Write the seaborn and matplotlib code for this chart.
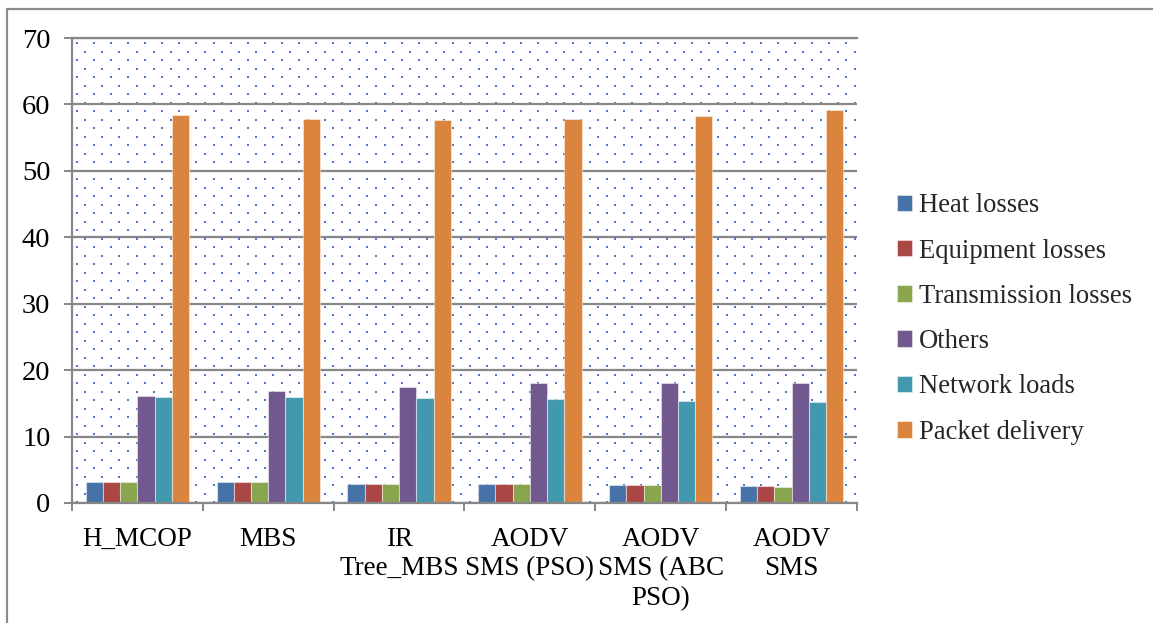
import numpy as np
import pandas as pd
import matplotlib
matplotlib.use("Agg")
import matplotlib.pyplot as plt
from matplotlib.lines import Line2D
from matplotlib.ticker import FixedLocator
import seaborn as sns

# Routing methods and loss/performance components
methods = ["H_MCOP", "MBS", "IR\nTree_MBS", "AODV\nSMS (PSO)", "AODV\nSMS (ABC\nPSO)", "AODV\nSMS"]
series = ["Heat losses", "Equipment losses", "Transmission losses",
          "Others", "Network loads", "Packet delivery"]
heat_losses = [3.1, 3.1, 2.9, 2.8, 2.7, 2.5]
equipment_losses = [3.1, 3.1, 2.9, 2.8, 2.7, 2.5]
transmission_losses = [3.1, 3.1, 2.9, 2.8, 2.7, 2.4]
others = [16.1, 16.8, 17.4, 18.0, 18.0, 18.0]
network_loads = [15.9, 15.9, 15.8, 15.6, 15.3, 15.2]
packet_delivery = [58.4, 57.8, 57.7, 57.8, 58.3, 59.2]
y_ticks = [0, 10, 20, 30, 40, 50, 60, 70]

colors = ["#4672A8", "#AA4744", "#89A54E", "#71588F", "#4198AF", "#DB843D"]
grey = "#878787"

values = [heat_losses, equipment_losses, transmission_losses,
          others, network_loads, packet_delivery]
df = pd.DataFrame({
    "method": np.tile(methods, len(series)),
    "series": np.repeat(series, len(methods)),
    "value": np.concatenate(values),
})

sns.set_style("white")
plt.rcParams["font.family"] = ["Liberation Serif", "DejaVu Serif"]

fig = plt.figure(figsize=(11.53, 6.23), dpi=100)
W, H = 785, 465
ax = fig.add_axes([72 / 1153, 120 / 623, W / 1153, H / 623])

sns.barplot(data=df, x="method", y="value", hue="series", order=methods,
            hue_order=series, palette=colors, saturation=1, width=0.79,
            linewidth=0.8, edgecolor=(1, 1, 1, 0.45), ax=ax, zorder=2)

# dotted fill pattern of the plot area
xs, ys = [], []
for j, yy in enumerate(np.arange(5.3, H, 8.5)):
    start = 4.7 if j % 2 == 0 else 4.7 + 8.55
    row = np.arange(start, W, 17.1)
    xs.extend(row)
    ys.extend([yy] * len(row))
xs = np.array(xs) / W
ys = 1 - np.array(ys) / H
ax.scatter(xs, ys, transform=ax.transAxes, s=4.2, marker="s", color="#4779C4",
           linewidths=0, zorder=0.2, clip_on=True)

ax.set_xlim(-0.5, len(methods) - 0.5)
ax.set_ylim(0, 70)
ax.set_yticks(y_ticks)
ax.set_xlabel("")
ax.set_ylabel("")

ax.set_axisbelow(True)
ax.yaxis.grid(True, color=grey, linewidth=1.6)
ax.xaxis.grid(False)

for side in ["left", "bottom", "top"]:
    ax.spines[side].set_visible(True)
    ax.spines[side].set_color(grey)
    ax.spines[side].set_linewidth(1.6)
ax.spines["right"].set_visible(False)

ax.tick_params(axis="y", which="major", left=True, direction="out", length=5.5,
               width=1.4, color=grey, pad=10, labelsize=20.5, labelcolor="black")
ax.tick_params(axis="x", which="major", bottom=True, length=0, pad=17,
               labelsize=19.5, labelcolor="black")
ax.xaxis.set_minor_locator(FixedLocator(np.arange(-0.5, len(methods), 1.0)))
ax.tick_params(axis="x", which="minor", bottom=True, direction="out", length=5.5,
               width=1.4, color=grey)
for lab in ax.get_xticklabels():
    lab.set_linespacing(1.25)

old = ax.get_legend()
handles = list(old.legend_handles)
labels = [t.get_text() for t in old.get_texts()]
old.remove()
fig.legend(handles, labels, loc="center left",
           bbox_to_anchor=(897 / 1153, 1 - 319 / 623), frameon=False,
           fontsize=19.2, handlelength=0.58, handleheight=0.58,
           handletextpad=0.25, labelspacing=0.76, borderpad=0, borderaxespad=0)

# chart-area border
bx = 6.5 / 1153
by = 1 - 9 / 623
fig.add_artist(Line2D([bx, bx], [0, by], transform=fig.transFigure,
                      color="#8C8C8C", linewidth=1.6))
fig.add_artist(Line2D([bx, 1], [by, by], transform=fig.transFigure,
                      color="#8C8C8C", linewidth=1.6))

fig.savefig("out.png", dpi=100)
